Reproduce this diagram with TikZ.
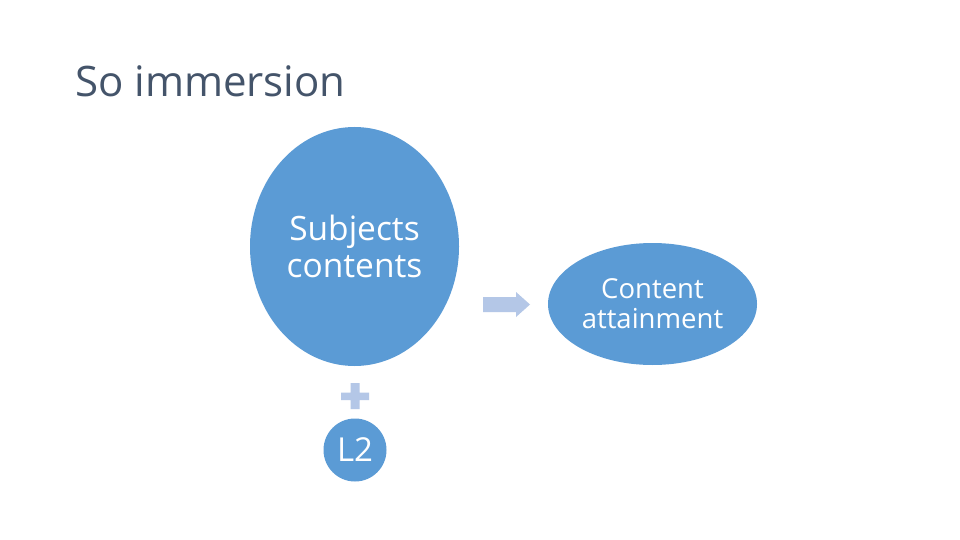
\documentclass[tikz,border=0pt]{standalone}
\usepackage{fontspec}
\setmainfont{Open Sans}
\usetikzlibrary{shapes.geometric}
\definecolor{ellblue}{HTML}{5B9BD5}
\definecolor{lightblue}{HTML}{B4C7E7}
\definecolor{titlecol}{HTML}{44546A}
\begin{document}
\begin{tikzpicture}[x=1pt,y=-1pt,
  blob/.style={fill=ellblue, draw=none, inner sep=0pt, text=white, align=center},
  deco/.style={fill=lightblue, draw=none}]
\useasboundingbox (0,0) rectangle (960,540);
\fill[white] (0,0) rectangle (960,540);
% title
\node[anchor=base west, inner sep=0pt, text=titlecol, font=\fontsize{42}{48}\selectfont] (title) at (75,97) {So immersion};
% big ellipse
\node[blob, shape=ellipse, minimum width=209pt, minimum height=239pt, font=\fontsize{33.5}{37}\selectfont] (subj) at (354.5,246.5) {Subjects\\contents};
% plus
\fill[deco] (341,392.5) -- (350.5,392.5) -- (350.5,383) -- (359.5,383) -- (359.5,392.5) -- (369,392.5) -- (369,400) -- (359.5,400) -- (359.5,409) -- (350.5,409) -- (350.5,400) -- (341,400) -- cycle;
% L2 circle
\node[blob, shape=circle, minimum size=63pt, font=\fontsize{33}{37}\selectfont] (l2) at (355,450) {L2};
% arrow
\fill[deco] (483,297) -- (516,297) -- (516,292) -- (530,304.5) -- (516,317) -- (516,312) -- (483,312) -- cycle;
% right ellipse
\node[blob, shape=ellipse, minimum width=209pt, minimum height=122pt, font=\fontsize{27.5}{30}\selectfont] (cont) at (652.5,304) {Content\\attainment};
\end{tikzpicture}
\end{document}
